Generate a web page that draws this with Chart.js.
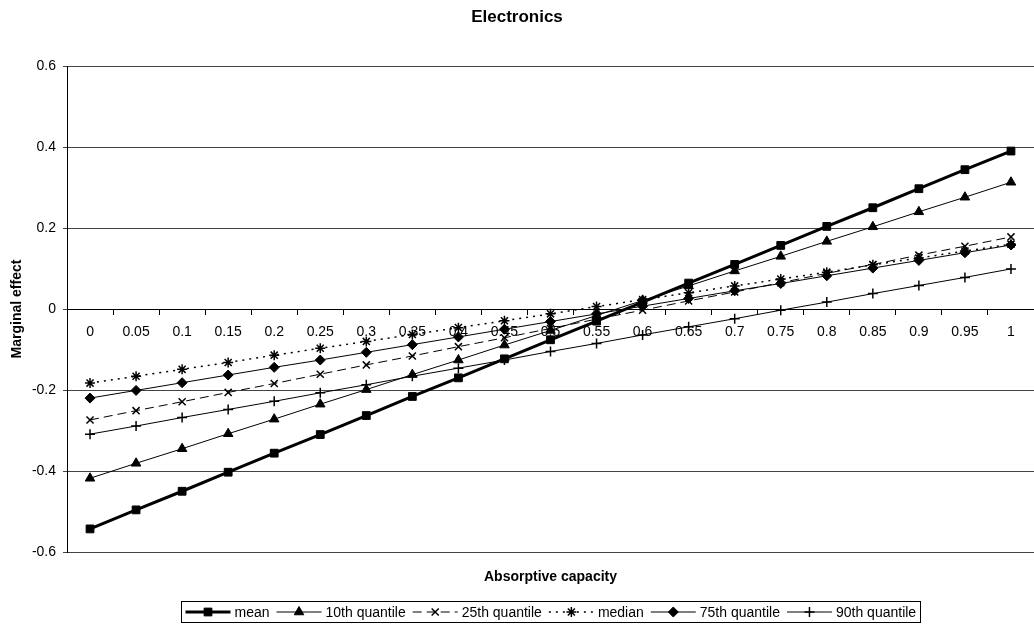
<!DOCTYPE html>
<html>
<head>
<meta charset="utf-8">
<title>Electronics</title>
<script src="https://cdn.jsdelivr.net/npm/chart.js@4/dist/chart.umd.min.js"></script>
<style>
  html, body { margin: 0; padding: 0; background: #fff; }
  #wrap { position: relative; width: 1034px; height: 628px; }
</style>
</head>
<body>
<div id="wrap"><canvas id="chart"></canvas></div>
<script>
// Chart texts
const TITLE = 'Electronics';
const X_TITLE = 'Absorptive capacity';
const Y_TITLE = 'Marginal effect';

// Absorptive capacity categories (x axis)
const categories = ['0', '0.05', '0.1', '0.15', '0.2', '0.25', '0.3', '0.35', '0.4', '0.45', '0.5',
  '0.55', '0.6', '0.65', '0.7', '0.75', '0.8', '0.85', '0.9', '0.95', '1'];

// Marginal effect values
const meanValues = [-0.543, -0.496, -0.450, -0.403, -0.356, -0.310, -0.263, -0.216, -0.170, -0.123, -0.076,
  -0.030, 0.017, 0.064, 0.110, 0.157, 0.204, 0.250, 0.297, 0.344, 0.390];
const q10Values = [-0.418, -0.381, -0.345, -0.308, -0.272, -0.235, -0.199, -0.162, -0.126, -0.089, -0.053,
  -0.016, 0.021, 0.057, 0.094, 0.130, 0.167, 0.203, 0.240, 0.276, 0.313];
const q25Values = [-0.274, -0.251, -0.229, -0.206, -0.184, -0.161, -0.138, -0.116, -0.093, -0.071, -0.048,
  -0.025, -0.003, 0.020, 0.042, 0.065, 0.088, 0.110, 0.133, 0.155, 0.178];
const medianValues = [-0.183, -0.166, -0.149, -0.132, -0.114, -0.097, -0.080, -0.063, -0.046, -0.029, -0.012,
  0.006, 0.023, 0.040, 0.057, 0.074, 0.091, 0.109, 0.126, 0.143, 0.160];
const q75Values = [-0.220, -0.201, -0.182, -0.163, -0.144, -0.126, -0.107, -0.088, -0.069, -0.050, -0.031,
  -0.012, 0.007, 0.026, 0.045, 0.063, 0.082, 0.101, 0.120, 0.139, 0.158];
const q90Values = [-0.309, -0.289, -0.268, -0.248, -0.228, -0.207, -0.187, -0.166, -0.146, -0.126, -0.105,
  -0.085, -0.064, -0.044, -0.024, -0.003, 0.017, 0.038, 0.058, 0.078, 0.099];

// Y axis range
const Y_MIN = -0.6;
const Y_MAX = 0.6;
const Y_STEP = 0.2;

const FONT = '"Liberation Sans", Arial, Helvetica, sans-serif';

/**
 * Build one black line series with its marker style
 */
function series(label, data, style) {
  return {
    label: label,
    data: data,
    borderColor: '#000',
    backgroundColor: '#000',
    pointBackgroundColor: '#000',
    pointBorderColor: '#000',
    pointBorderWidth: 1,
    pointRadius: 5,
    tension: 0,
    fill: false,
    ...style
  };
}

/**
 * Draw the boxed legend below the axis title
 * (line sample with marker in the middle, like the spreadsheet legend)
 */
function drawLegend(chart) {
  const ctx = chart.ctx;
  const area = chart.chartArea;
  const sample = 45, gap = 4, spacing = 7, pad = 4;
  ctx.save();
  ctx.font = '14px ' + FONT;
  const items = chart.data.datasets.map(ds => ({ ds: ds, w: ctx.measureText(ds.label).width }));
  const total = items.reduce((s, it) => s + sample + gap + it.w + spacing, 0) - spacing + 2 * pad;
  const boxTop = 601.5, boxH = 21;
  const x0 = Math.round((area.left + area.right) / 2 - total / 2) + 0.5;
  ctx.strokeStyle = '#000';
  ctx.lineWidth = 1;
  ctx.strokeRect(x0, boxTop, Math.round(total), boxH);

  const cy = boxTop + boxH / 2;
  let cx = x0 + pad;
  items.forEach(({ ds, w }) => {
    ctx.save();
    ctx.strokeStyle = '#000';
    ctx.fillStyle = '#000';
    ctx.lineWidth = ds.borderWidth;
    ctx.setLineDash(ds.borderDash || []);
    ctx.beginPath();
    ctx.moveTo(cx, cy);
    ctx.lineTo(cx + sample, cy);
    ctx.stroke();
    ctx.setLineDash([]);
    ctx.lineWidth = ds.pointBorderWidth;
    Chart.helpers.drawPoint(ctx, {
      pointStyle: ds.pointStyle,
      radius: ds.pointRadius,
      rotation: 0,
      borderWidth: ds.pointBorderWidth
    }, cx + sample / 2, cy);
    ctx.restore();

    ctx.fillStyle = '#000';
    ctx.textAlign = 'left';
    ctx.textBaseline = 'middle';
    ctx.fillText(ds.label, cx + sample + gap, cy + 1);
    cx += sample + gap + w + spacing;
  });
  ctx.restore();
}

// Title, axis titles and legend drawn on top of the chart
const chartText = {
  id: 'chartText',
  afterDraw(chart) {
    const ctx = chart.ctx;
    const area = chart.chartArea;
    ctx.save();
    ctx.fillStyle = '#000';
    ctx.textAlign = 'center';
    ctx.textBaseline = 'middle';
    ctx.font = 'bold 17px ' + FONT;
    ctx.fillText(TITLE, chart.width / 2, 17);
    ctx.font = 'bold 14px ' + FONT;
    ctx.fillText(X_TITLE, (area.left + area.right) / 2, 577);
    ctx.translate(17, (area.top + area.bottom) / 2);
    ctx.rotate(-Math.PI / 2);
    ctx.fillText(Y_TITLE, 0, 0);
    ctx.restore();
    drawLegend(chart);
  }
};

const datasets = [
  series('mean', meanValues, { borderWidth: 3, pointStyle: 'rect', pointRadius: 5.5 }),
  series('10th quantile', q10Values, { borderWidth: 1, pointStyle: 'triangle', pointRadius: 5.5 }),
  series('25th quantile', q25Values, { borderWidth: 1, borderDash: [9, 5], pointStyle: 'crossRot', pointRadius: 5, pointBorderWidth: 1.5 }),
  series('median', medianValues, { borderWidth: 1.5, borderDash: [2, 5], pointStyle: 'star', pointRadius: 5, pointBorderWidth: 1.5 }),
  series('75th quantile', q75Values, { borderWidth: 1, pointStyle: 'rectRot', pointRadius: 5 }),
  series('90th quantile', q90Values, { borderWidth: 1, pointStyle: 'cross', pointRadius: 5, pointBorderWidth: 1.5 })
];

const canvas = document.getElementById('chart');
const chart = new Chart(canvas.getContext('2d'), {
  type: 'line',
  data: { labels: categories, datasets: datasets },
  options: {
    responsive: true,
    maintainAspectRatio: false,
    animation: false,
    events: [],
    layout: { autoPadding: false, padding: { top: 66, bottom: 76, left: 0, right: 0 } },
    plugins: {
      legend: { display: false },
      title: { display: false },
      tooltip: { enabled: false }
    },
    scales: {
      x: {
        type: 'category',
        position: { y: 0 },
        offset: true,
        grid: {
          display: true,
          drawOnChartArea: false,
          drawTicks: true,
          tickLength: 5,
          offset: true,
          color: '#000'
        },
        border: { display: true, color: '#000', width: 1 },
        ticks: {
          color: '#000',
          font: { family: FONT, size: 14 },
          maxRotation: 0,
          autoSkip: false,
          padding: 10
        }
      },
      y: {
        min: Y_MIN,
        max: Y_MAX,
        ticks: {
          stepSize: Y_STEP,
          color: '#000',
          font: { family: FONT, size: 14 },
          padding: 7,
          callback: function(value) {
            return String(Number(value.toFixed(1)));
          }
        },
        grid: { color: '#444', tickLength: 4, drawTicks: true },
        border: { display: true, color: '#000', width: 1 },
        afterFit: function(scale) {
          scale.width = 67;
        }
      }
    }
  },
  plugins: [chartText]
});
</script>
</body>
</html>
